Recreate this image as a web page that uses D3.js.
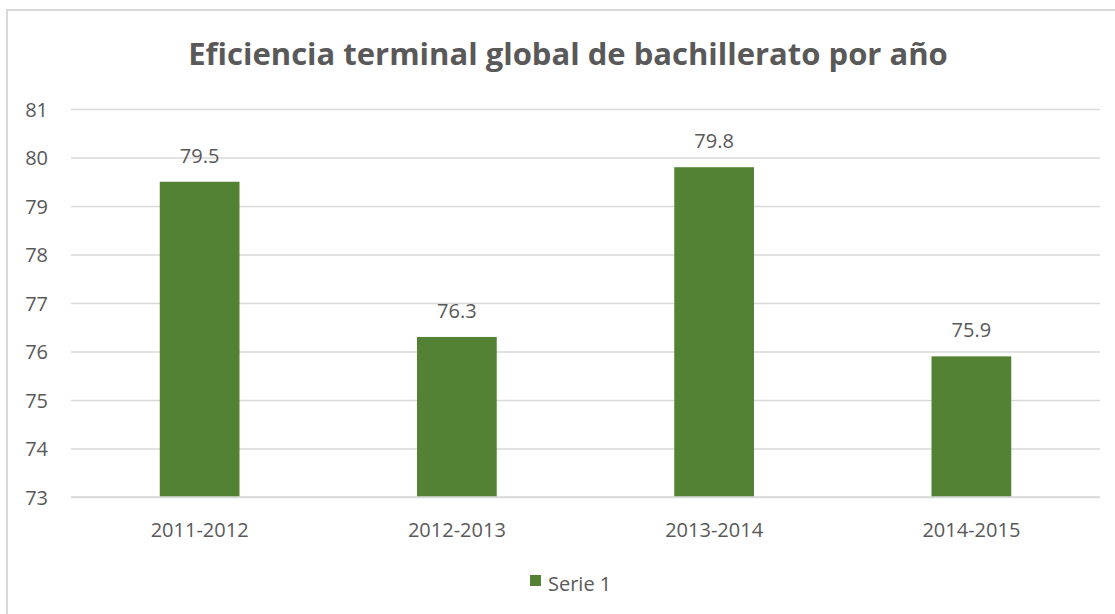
<!DOCTYPE html>
<html><head><meta charset="utf-8">
<script src="https://cdn.jsdelivr.net/npm/d3@7"></script>
<style>body{margin:0;background:#fff;} text{font-family:"Open Sans", sans-serif;font-variant-ligatures:none;}</style>
</head><body>
<svg id="c" width="1115" height="614"></svg>
<script>
const categories = ["2011-2012","2012-2013","2013-2014","2014-2015"];
const values = [79.5, 76.3, 79.8, 75.9];
const yTicks = [73,74,75,76,77,78,79,80,81];
const seriesName = "Serie 1";
const title = "Eficiencia terminal global de bachillerato por año";

(function(){
const svg = d3.select("#c");
const textColor = "#595959";
const gridColor = "#d9d9d9";
const barColor = "#548235";
const fs = "20px";

svg.append("rect").attr("x",7).attr("y",10).attr("width",1120).attr("height",620)
  .attr("fill","#fff").attr("stroke",gridColor).attr("stroke-width",2);

const pl = 71, pr = 1100, pt = 109, pb = 497;
const x = d3.scaleBand().domain(categories).range([pl,pr]).paddingInner(0.69).paddingOuter(0.345);
const y = d3.scaleLinear().domain([73,81]).range([pb,pt]);

const yAxis = d3.axisLeft(y).tickValues(yTicks).tickSize(-(pr-pl)).tickFormat(d3.format("d"));
const gy = svg.append("g").attr("transform",`translate(${pl},0)`).call(yAxis);
gy.select(".domain").remove();
gy.selectAll(".tick line").attr("stroke",gridColor).attr("stroke-width",1.3);
gy.selectAll(".tick text").attr("fill",textColor).style("font-size",fs).attr("dy","0.35em").attr("x",-23);

svg.append("g").selectAll("rect").data(values).join("rect")
  .attr("x",(d,i)=>x(categories[i])).attr("width",x.bandwidth())
  .attr("y",d=>y(d)).attr("height",d=>y(73)-y(d)).attr("fill",barColor);

svg.append("line").attr("x1",pl).attr("x2",pr).attr("y1",pb).attr("y2",pb)
  .attr("stroke",gridColor).attr("stroke-width",1.5);

svg.append("g").selectAll("text").data(values).join("text")
  .attr("x",(d,i)=>x(categories[i])+x.bandwidth()/2).attr("y",d=>y(d)-19)
  .attr("text-anchor","middle").attr("fill",textColor).style("font-size",fs)
  .text(d=>d3.format(".1f")(d));

const xAxis = d3.axisBottom(x).tickSize(0).tickPadding(0);
const gx = svg.append("g").attr("transform",`translate(0,${pb})`).call(xAxis);
gx.select(".domain").remove();
gx.selectAll(".tick text").attr("fill",textColor).style("font-size",fs).attr("dy",0).attr("y",40);

svg.append("text").attr("x",568).attr("y",65).attr("text-anchor","middle")
  .attr("fill",textColor).style("font-size","31px").style("font-weight","bold").text(title);

svg.append("rect").attr("x",530).attr("y",575).attr("width",11).attr("height",11).attr("fill",barColor);
svg.append("text").attr("x",548).attr("y",591).attr("fill",textColor).style("font-size",fs).text(seriesName);
})();
</script>
</body></html>
